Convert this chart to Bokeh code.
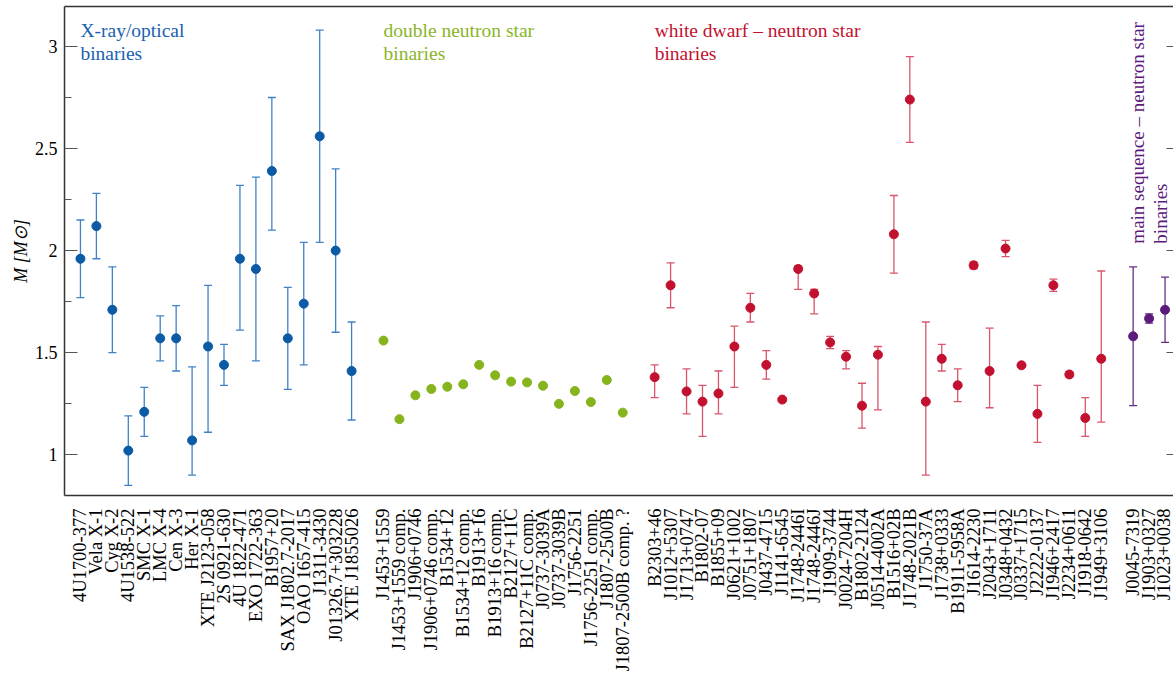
import math
from bokeh.plotting import figure
from bokeh.models import (ColumnDataSource, Range1d, FixedTicker, LinearAxis, Whisker, TeeHead,
                          CustomLabelingPolicy)
from bokeh.core.properties import value
from bokeh.embed import file_html
from bokeh.resources import INLINE

# ---------------- data ----------------
xray_names = ["4U1700-377", "Vela X-1", "Cyg X-2", "4U1538-522", "SMC X-1", "LMC X-4", "Cen X-3",
              "Her X-1", "XTE J2123-058", "2S 0921-630", "4U 1822-471", "EXO 1722-363", "B1957+20",
              "SAX J1802.7-2017", "OAO 1657-415", "J1311-3430", "J01326.7+303228", "XTE J1855026"]
xray_mass = [1.96, 2.12, 1.71, 1.02, 1.21, 1.57, 1.57, 1.07, 1.53, 1.44, 1.96, 1.91, 2.39, 1.57, 1.74, 2.56, 2.00, 1.41]
xray_upper = [2.15, 2.28, 1.92, 1.19, 1.33, 1.68, 1.73, 1.43, 1.83, 1.54, 2.32, 2.36, 2.75, 1.82, 2.04, 3.08, 2.40, 1.65]
xray_lower = [1.77, 1.96, 1.50, 0.85, 1.09, 1.46, 1.41, 0.90, 1.11, 1.34, 1.61, 1.46, 2.10, 1.32, 1.44, 2.04, 1.60, 1.17]

dns_names = ["J1453+1559", "J1453+1559 comp.", "J1906+0746", "J1906+0746 comp.", "B1534+12",
             "B1534+12 comp.", "B1913+16", "B1913+16 comp.", "B2127+11C", "B2127+11C comp.",
             "J0737-3039A", "J0737-3039B", "J1756-2251", "J1756-2251 comp.", "J1807-2500B",
             "J1807-2500B comp. ?"]
dns_mass = [1.559, 1.174, 1.291, 1.322, 1.333, 1.345, 1.440, 1.389, 1.358, 1.354,
            1.338, 1.249, 1.312, 1.258, 1.366, 1.206]

wd_names = ["B2303+46", "J1012+5307", "J1713+0747", "B1802-07", "B1855+09", "J0621+1002",
            "J0751+1807", "J0437-4715", "J1141-6545", "J1748-2446I", "J1748-2446J", "J1909-3744",
            "J0024-7204H", "B1802-2124", "J0514-4002A", "B1516+02B", "J1748-2021B", "J1750-37A",
            "J1738+0333", "B1911-5958A", "J1614-2230", "J2043+1711", "J0348+0432", "J0337+1715",
            "J2222-0137", "J1946+2417", "J2234+0611", "J1918-0642", "J1949+3106"]
wd_mass = [1.38, 1.83, 1.31, 1.26, 1.30, 1.53, 1.72, 1.44, 1.27, 1.91, 1.79, 1.55, 1.48, 1.24, 1.49,
           2.08, 2.74, 1.26, 1.47, 1.34, 1.928, 1.41, 2.01, 1.438, 1.20, 1.83, 1.393, 1.18, 1.47]
wd_upper = [1.44, 1.94, 1.42, 1.34, 1.41, 1.63, 1.79, 1.51, 1.28, 1.925, 1.81, 1.58, 1.51, 1.35, 1.53,
            2.27, 2.95, 1.65, 1.54, 1.42, 1.945, 1.62, 2.05, 1.44, 1.34, 1.86, 1.406, 1.28, 1.90]
wd_lower = [1.28, 1.72, 1.20, 1.09, 1.20, 1.33, 1.65, 1.37, 1.26, 1.81, 1.69, 1.52, 1.42, 1.13, 1.22,
            1.89, 2.53, 0.90, 1.41, 1.26, 1.911, 1.23, 1.97, 1.436, 1.06, 1.80, 1.380, 1.09, 1.16]

ms_names = ["J0045-7319", "J1903+0327", "J1023+0038"]
ms_mass = [1.58, 1.667, 1.71]
ms_upper = [1.92, 1.69, 1.87]
ms_lower = [1.24, 1.645, 1.55]

y_ticks = [1, 1.5, 2, 2.5, 3]
y_minor = [1.25, 1.75, 2.25, 2.75]

# ---------------- style ----------------
FONT = "Liberation Serif"
groups = [
    dict(names=xray_names, mass=xray_mass, upper=xray_upper, lower=xray_lower,
         pt="#0b5aa6", bar="#3f82c6", txt="#1862b0", label="X-ray/optical\nbinaries"),
    dict(names=dns_names, mass=dns_mass, upper=None, lower=None,
         pt="#86b41d", bar="#86b41d", txt="#8ab52a", label="double neutron star\nbinaries"),
    dict(names=wd_names, mass=wd_mass, upper=wd_upper, lower=wd_lower,
         pt="#c2112f", bar="#d9546c", txt="#c2112f", label="white dwarf \u2013 neutron star\nbinaries"),
    dict(names=ms_names, mass=ms_mass, upper=ms_upper, lower=ms_lower,
         pt="#5c1a7c", bar="#6a2b89", txt="#5c1a7c", label="main sequence \u2013 neutron star\nbinaries"),
]

p = figure(frame_width=1109, frame_height=489,
           x_range=Range1d(-1, 68.53), y_range=Range1d(0.8, 3.196),
           output_backend="svg", toolbar_location=None,
           min_border_left=64, min_border_right=0, min_border_top=6, min_border_bottom=0)
p.grid.visible = False
p.outline_line_color = None
p.background_fill_color = "white"

ticks, overrides = [], {}
slot = 0
for gi, g in enumerate(groups):
    xs = list(range(slot, slot + len(g["names"])))
    g["start"] = slot
    for x, n in zip(xs, g["names"]):
        ticks.append(x)
        overrides[x] = n
    src = ColumnDataSource(dict(x=xs, m=g["mass"]))
    if g["upper"] is not None:
        wsrc = ColumnDataSource(dict(x=xs, upper=g["upper"], lower=g["lower"]))
        w = Whisker(base="x", upper="upper", lower="lower", source=wsrc,
                    line_color=g["bar"], line_width=1.3,
                    upper_head=TeeHead(size=8, line_color=g["bar"], line_width=1.3),
                    lower_head=TeeHead(size=8, line_color=g["bar"], line_width=1.3))
        p.add_layout(w)
    p.scatter(x="x", y="m", source=src, size=9, fill_color=g["pt"], line_color=g["pt"])
    slot += len(g["names"]) + 1

# group labels
for g in groups[:3]:
    p.text(x=[g["start"]], y=[3.132], text=[g["label"]], text_font=value(FONT),
           text_font_size="19.5px", text_color=g["txt"], text_align="left",
           text_baseline="top", text_line_height=1.1)
gm = groups[3]
p.text(x=[gm["start"] - 0.4], y=[2.034], text=[gm["label"]], text_font=value(FONT),
       text_font_size="19px", text_color=gm["txt"], text_align="left",
       text_baseline="top", text_line_height=1.1, angle=math.pi / 2)

# x axis
xa = p.xaxis[0]
xa.ticker = FixedTicker(ticks=ticks)
xa.major_label_overrides = overrides
xa.major_label_orientation = math.pi / 2
xa.major_label_text_font = FONT
xa.major_label_text_font_size = "18.5px"
xa.major_label_text_color = "black"
xa.major_label_standoff = 7
xa.major_tick_line_color = None
xa.minor_tick_line_color = None
xa.axis_line_color = "#333333"
xa.axis_line_width = 1.5

# y axis
ya = p.yaxis[0]
ya.ticker = FixedTicker(ticks=y_ticks, minor_ticks=y_minor)
ya.major_label_overrides = {t: ("%g" % t) for t in y_ticks}
ya.major_label_text_font = FONT
ya.major_label_text_font_size = "18px"
ya.major_label_text_color = "black"
ya.major_label_standoff = 7
ya.major_tick_in = 13
ya.major_tick_out = 0
ya.minor_tick_in = 7
ya.minor_tick_out = 0
ya.major_tick_line_color = "#555555"
ya.minor_tick_line_color = "#555555"
ya.axis_line_color = "#333333"
ya.axis_line_width = 1.5
ya.axis_label = "M [M\u2299]"
ya.axis_label_text_font = FONT
ya.axis_label_text_font_style = "italic"
ya.axis_label_text_font_size = "18px"
ya.axis_label_text_color = "black"
ya.axis_label_standoff = 1

hide_all = CustomLabelingPolicy(code="""
    for (const i of Array.from(indices)) { indices.unset(i) }
    return indices
""")

# top spine
top = LinearAxis(ticker=FixedTicker(ticks=[]), axis_line_color="#333333", axis_line_width=1.5,
                 major_tick_in=0, major_tick_out=0, minor_tick_in=0, minor_tick_out=0,
                 major_label_text_font_size="0px", major_label_standoff=0,
                 major_label_policy=hide_all)
p.add_layout(top, "above")

# right ticks
right = LinearAxis(ticker=FixedTicker(ticks=y_ticks), axis_line_color=None,
                   major_tick_in=7, major_tick_out=0, minor_tick_in=0, minor_tick_out=0,
                   major_tick_line_color="#555555",
                   major_label_text_font_size="0px", major_label_standoff=0,
                   major_label_policy=hide_all)
p.add_layout(right, "right")

open("out.html", "w").write(file_html(p, INLINE))
